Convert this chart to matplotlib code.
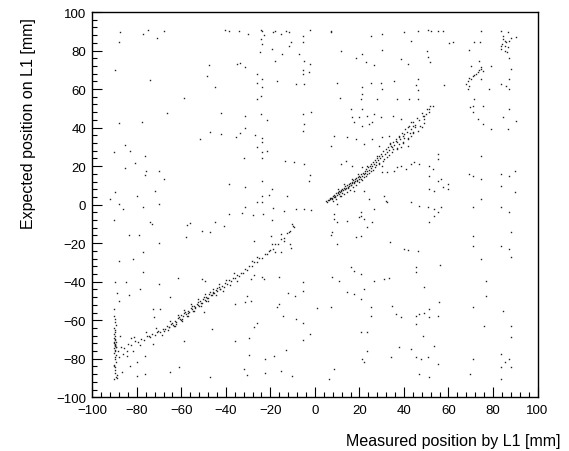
import matplotlib
matplotlib.use("Agg")
import matplotlib.pyplot as plt
from matplotlib.ticker import MultipleLocator

plt.rcParams['font.family'] = ['Liberation Sans', 'DejaVu Sans']

# upper diagonal band (measured ~ expected, positive side)
band_hi_x = [5.2, 5.6, 6.0, 6.3, 6.7, 7.0, 7.3, 7.7, 8.0, 8.4, 8.8, 9.1, 9.5, 9.8, 10.2, 10.5,
             10.9, 11.2, 11.6, 11.9, 12.3, 12.6, 13.0, 13.3, 13.7, 14.0, 14.4, 14.7, 15.1, 15.4,
             15.8, 16.1, 16.5, 16.8, 17.2, 17.5, 17.9, 18.2, 18.6, 18.9, 19.3, 19.7, 20.0, 20.4,
             20.8, 21.1, 21.5, 21.9, 22.3, 22.6, 23.0, 23.4, 23.8, 24.2, 24.6, 25.0, 25.4, 25.8,
             26.3, 26.7, 27.1, 27.6, 28.0, 28.5, 28.9, 29.4, 29.8, 30.3, 30.8, 31.3, 31.8, 32.3,
             32.8, 33.4, 33.9, 34.5, 35.1, 35.7, 36.3, 36.9, 37.6, 38.3, 39.0, 39.7, 40.5, 41.3,
             42.1, 43.0, 43.9, 44.8, 45.8, 46.8, 47.9, 49.0, 50.2, 51.5,
             7.5, 9.0, 10.8, 12.1, 13.6, 15.0, 16.3, 17.7, 19.0, 20.6, 22.0, 23.5, 25.1, 26.9,
             28.7, 30.5, 32.6, 34.8, 37.0, 39.4, 41.8, 44.2, 47.4,
             8.3, 9.7, 11.4, 12.9, 14.2, 15.6, 17.0, 18.4, 19.8, 21.2, 22.8, 24.4, 25.9, 27.4,
             29.0, 31.0, 33.1, 35.3, 37.8, 40.2, 42.6, 45.1,
             10.3, 13.1, 16.6, 19.4, 23.2, 27.8, 33.6]
band_hi_y = [1.9, 1.6, 2.6, 2.4, 3.5, 2.9, 3.7, 3.4, 4.5, 4.1, 5.2, 4.6, 5.8, 5.2, 6.4, 5.8,
             7.0, 6.4, 7.6, 6.9, 8.3, 7.6, 8.8, 8.1, 9.5, 8.6, 10.1, 9.2, 10.8, 9.8,
             11.3, 10.4, 11.9, 11.0, 12.6, 11.6, 13.1, 12.2, 13.8, 12.7, 14.3, 13.4, 14.9, 14.1,
             15.8, 14.8, 16.5, 15.7, 17.4, 16.5, 18.4, 17.3, 19.4, 18.2, 20.3, 19.1, 21.3, 20.1,
             22.3, 21.0, 23.4, 22.0, 24.3, 23.1, 25.4, 24.1, 26.5, 25.0, 27.8, 26.2, 28.9, 27.3,
             30.0, 28.6, 31.4, 29.8, 32.7, 31.2, 34.1, 32.4, 35.5, 34.0, 37.2, 35.6, 39.1, 37.5,
             40.9, 39.5, 42.9, 41.6, 45.0, 43.8, 47.4, 46.2, 49.8, 51.3,
             2.7, 4.1, 5.7, 6.3, 8.0, 8.9, 10.2, 11.3, 12.1, 13.5, 14.6, 16.0, 17.5, 19.3,
             21.0, 22.6, 24.9, 27.1, 29.4, 32.1, 34.6, 37.3, 41.0,
             2.0, 3.1, 4.6, 5.7, 6.6, 7.8, 9.3, 10.2, 11.6, 12.8, 14.9, 16.5, 18.1, 20.4,
             21.6, 23.9, 26.0, 28.7, 31.5, 34.6, 37.0, 40.1,
             8.2, 10.6, 13.5, 15.9, 20.3, 25.1, 32.2]

# lower diagonal band (negative side)
band_lo_x = [-88.5, -87.0, -85.6, -84.0, -82.5, -81.0, -79.6, -78.2, -76.8, -75.5, -74.2, -73.0,
             -71.8, -70.6, -69.5, -68.4, -67.4, -66.4, -65.5, -64.6, -63.8, -63.0, -62.2, -61.4,
             -60.7, -60.0, -59.3, -58.6, -57.9, -57.2, -56.5, -55.8, -55.1, -54.4, -53.7, -53.0,
             -52.3, -51.6, -50.9, -50.2, -49.5, -48.8, -48.1, -47.4, -46.7, -46.0, -45.3, -44.6,
             -43.9, -43.2, -42.5, -41.8, -41.0, -40.2, -39.4, -38.6, -37.8, -37.0, -36.1, -35.2,
             -34.3, -33.4, -32.4, -31.4, -30.4, -29.4, -28.3, -27.2, -26.1, -25.0, -23.8, -22.6,
             -21.4, -20.2, -19.0, -17.7, -16.4, -15.1, -13.8, -12.5, -11.2, -9.9,
             -66.0, -64.1, -62.6, -61.0, -59.6, -58.2, -56.8, -55.4, -54.0, -52.7, -51.2, -49.8,
             -48.4, -47.0, -45.6, -44.2, -42.8, -63.3, -60.3, -57.5, -54.7, -51.9, -49.1, -46.3,
             -65.0, -62.9, -61.7, -59.9, -58.9, -57.0, -55.5, -54.2, -52.5, -51.0, -49.3, -47.8,
             -46.0, -44.5, -43.0, -41.4, -39.8, -38.0, -36.5, -34.8, -76.0, -78.6, -81.3, -84.6,
             -71.2, -68.9]
band_lo_y = [-75.8, -74.0, -74.3, -72.5, -72.9, -71.0, -71.4, -69.6, -70.0, -68.3, -68.6, -67.0,
             -67.5, -65.8, -66.2, -64.3, -64.8, -62.9, -63.6, -61.8, -62.3, -60.3, -60.8, -58.9,
             -59.4, -57.5, -58.0, -56.2, -56.8, -55.0, -55.6, -53.8, -54.4, -52.6, -53.2, -51.4,
             -52.0, -50.2, -50.8, -49.0, -49.5, -47.7, -48.2, -46.5, -47.0, -45.3, -45.9, -44.1,
             -44.8, -43.0, -43.6, -42.0, -42.6, -40.8, -41.2, -39.3, -39.7, -37.9, -38.2, -36.4,
             -37.1, -35.3, -35.6, -33.6, -33.8, -31.7, -31.8, -29.7, -29.8, -27.6, -27.8, -25.7,
             -25.8, -23.4, -23.2, -20.6, -20.3, -17.6, -17.4, -14.8, -13.8, -11.0,
             -65.2, -61.5, -61.9, -58.4, -59.2, -55.9, -56.3, -52.8, -53.4, -50.3, -51.1, -48.1,
             -48.6, -45.4, -46.1, -43.3, -43.9, -63.0, -60.0, -57.6, -55.3, -52.4, -49.9, -47.0,
             -60.6, -63.2, -57.4, -60.4, -54.7, -57.7, -51.8, -55.3, -49.2, -52.6, -46.5, -49.9,
             -43.6, -46.7, -41.4, -44.6, -39.0, -41.6, -35.6, -39.4, -66.2, -73.1, -68.9, -76.2,
             -64.0, -67.8]

# vertical cluster at the left edge
col_x = [-90.2, -89.8, -90.0, -89.5, -90.3, -89.9, -89.6, -90.1, -89.7, -90.4, -89.8, -90.0,
         -89.3, -90.2, -89.9, -89.6, -90.0, -89.4, -90.3, -89.8, -89.7, -90.1, -89.5, -90.0,
         -89.9, -89.2, -90.2, -89.6, -89.8, -90.0, -88.9, -89.4, -90.1, -89.7, -90.3, -89.5]
col_y = [-57.8, -59.5, -61.0, -62.4, -63.8, -65.0, -66.1, -67.3, -68.2, -69.0, -69.8, -70.5,
         -71.1, -71.8, -72.4, -73.0, -73.5, -74.1, -74.6, -75.2, -75.9, -76.8, -77.9, -79.0,
         -80.3, -81.8, -83.0, -84.5, -86.0, -87.2, -88.4, -89.5, -90.6, -72.9, -71.5, -74.0]

# small clusters near the top right
clus_x = [83.6, 84.4, 85.2, 84.1, 85.5, 83.6, 85.2, 86.4, 85.9, 87.4, 87.9, 86.7, 84.7, 83.4,
          74.6, 73.9, 75.4, 73.2, 71.6, 70.9, 69.4, 68.6, 67.9, 70.1, 72.4, 74.6, 68.6, 69.4]
clus_y = [90.3, 87.3, 85.1, 83.3, 82.5, 80.7, 79.9, 79.0, 84.2, 85.1, 86.3, 81.6, 85.9, 82.1,
          71.2, 70.0, 69.5, 68.6, 67.3, 66.6, 66.0, 64.3, 62.6, 65.2, 67.8, 70.4, 60.0, 61.4]

# scattered background hits
bg_x = [-87.5, -88.2, -77.3, -75.2, -71.0, -67.7, -40.2, -38.7, -34.2, -30.1, -24.4, -23.7,
        -22.9, -18.7, -17.7, -15.4, -13.2, -11.7, -5.4, -5.4, -2.2, -24.4, -23.7, -24.7,
        -19.2, -17.7, -14.7, -11.7, -10.9, -7.2, -4.9, -2.2, -5.4, -2.7, -33.7, -31.6,
        -34.9, -47.7, -48.4, -45.1, -26.2, -23.7, -26.2, -23.7, -24.1, -26.2, -16.9, -8.7,
        -5.4, -4.9, -89.7, -74.3, -59.0, -66.5, -87.9, -77.7, -42.1, -31.6, -24.4, -21.4,
        -5.4, -1.9, -4.9, -5.4, -51.5, -47.2, -42.1, -35.4, -33.7, -31.6, -26.7, -23.7,
        -23.7, -25.9, -23.7, -21.4, -31.9, -23.7, -13.6, -9.4, -4.9, -2.2, -2.7, -90.2,
        -85.2, -83.0, -80.7, -85.2, -76.2, -75.8, -76.2, -70.2, -67.7, -38.7, -31.6, -23.7,
        -19.2, -23.7, -20.7, -12.7, -25.9, -23.7, -18.7, -13.9, -8.7, -4.9, -1.6, -31.6,
        -32.7, -27.7, -23.4, -38.7, -71.7, -79.7, -70.2, -87.9, -86.3, -77.0, -89.7, -92.0,
        # lower left quarter
        -90.2, -74.0, -73.2, -57.5, -56.0, -57.8, -50.7, -47.0, -45.1, -40.9, -19.2, -10.2,
        -9.4, -11.7, -15.4, -19.9, -19.2, -13.9, -11.4, -10.9, -15.4, -17.7, -20.7, -27.4,
        -25.9, -28.2, -28.9, -27.4, -23.7, -22.9, -16.2, -5.4, -5.4, -9.1, -12.1, -16.2,
        -16.9, -14.4, -8.7, -5.4, -2.2, -5.4, 0.8, -31.6, -28.9, -30.4, -36.1, -35.7,
        -29.7, -27.4, -26.2, -29.7, -22.2, -18.4, -13.2, -22.5, -15.4, -10.2, -30.4, -31.9,
        -47.0, -46.2, -50.7, -49.2, -61.7, -50.0, -61.2, -65.3, -70.2, -83.7, -79.2, -81.5,
        -77.0, -88.2, -89.7, -84.8, -77.3, -78.5, -83.3, -88.7, -87.8, -90.2, -70.2, -65.0,
        -69.5, -72.8, -72.5, -72.8, -76.2, -80.0, -83.0, -76.2, -80.0, -86.7, -88.7, -90.2,
        -84.5, -86.0, -81.5, -88.2, -87.5, -82.7, -74.7, -71.0, -68.0, -59.0, -65.7,
        # upper right quarter
        7.1, 7.1, 25.1, 30.3, 40.1, 46.1, 50.6, 52.1, 55.1, 57.4, 74.6, 86.7,
        61.9, 60.4, 43.1, 11.9, 21.3, 18.3, 22.8, 26.6, 30.3, 38.6, 41.9, 50.3,
        50.6, 51.8, 71.6, 69.4, 74.3, 70.1, 73.9, 79.1, 87.4, 87.9, 90.4, 10.1,
        21.3, 25.1, 29.6, 30.3, 35.6, 46.1, 45.4, 46.1, 58.1, 74.6, 78.4, 83.6,
        85.9, 87.4, 87.4, 11.3, 21.3, 20.6, 28.1, 37.1, 42.4, 46.1, 52.9, 51.4,
        51.4, 49.9, 48.4, 49.1, 48.8, 47.9, 71.6, 70.9, 69.8, 75.4, 70.9, 73.2,
        75.4, 79.1, 84.4, 87.4, 90.4, 86.7, 16.1, 21.3, 26.6, 16.8, 17.6, 19.8,
        21.3, 23.6, 24.3, 25.8, 29.6, 34.9, 38.6, 43.1, 41.6, 43.9, 8.6, 7.1,
        14.6, 18.3, 22.1, 25.8, 30.3, 33.4, 28.8, 34.1, 37.1, 38.6, 41.6, 39.4,
        41.6, 43.1, 43.9, 46.1, 40.1, 37.9, 36.4, 11.6, 13.8, 16.8, 21.3, 30.3,
        30.3, 32.6, 35.6, 37.1, 38.6, 40.9, 43.1, 44.6, 46.9, 51.4, 52.9, 55.1,
        55.1, 51.4, 55.1, 56.6, 59.6, 51.4, 53.6, 57.4, 59.6, 69.4, 70.9, 74.6,
        74.6, 83.6, 87.4, 89.7, 83.6, 89.7, 31.1, 31.8, 26.6, 20.6, 19.8, 8.6,
        10.1, 11.6, 17.6, 22.1, 24.3, 32.6, 43.1, 46.9, 50.6, 53.6, 53.6, 55.1,
        56.6, 74.6, 87.4, 70.9, 83.6,
        # lower right quarter
        8.6, 10.1, 14.6, 20.6, 22.1, 25.8, 23.6, 7.8, 7.1, 10.1, 18.3, 20.6,
        33.8, 40.1, 41.6, 46.1, 51.4, 87.9, 83.6, 87.4, 87.9, 70.9, 70.9, 74.6,
        16.1, 17.6, 20.6, 45.4, 45.4, 56.3, 7.8, 10.8, 26.6, 31.1, 33.4, 22.1,
        14.6, 17.6, 20.6, 7.1, 25.1, 25.1, 34.8, 36.3, 38.6, 45.4, 46.9, 51.4,
        51.4, 55.1, 49.1, 45.4, 55.9, 49.1, 70.9, 76.9, 76.9, 75.9, 84.4, 87.9,
        88.2, 20.6, 23.6, 48.4, 53.6, 37.9, 43.1, 45.4, 47.6, 50.6, 55.1, 34.1,
        21.3, 23.6, 22.1, 70.9, 83.6, 85.2, 87.4, 87.9, 83.6, 46.9, 51.4, 8.6,
        6.3, 69.8, 83.6]
bg_y = [89.4, 84.6, 88.5, 90.8, 86.3, 90.1, 90.6, 89.9, 89.9, 88.7, 90.8, 90.3,
        88.0, 89.4, 89.9, 88.5, 89.9, 89.6, 87.7, 84.2, 90.8, 85.9, 83.3, 79.0,
        80.7, 74.7, 78.2, 82.5, 84.6, 78.2, 74.7, 72.8, 69.9, 69.0, 73.5, 71.2,
        73.0, 72.4, 66.9, 61.2, 67.8, 65.2, 63.4, 60.9, 56.2, 54.8, 64.3, 62.6,
        67.8, 62.6, 69.9, 64.7, 55.5, 47.4, 42.3, 43.0, 47.5, 45.8, 47.0, 44.1,
        47.0, 47.9, 41.8, 38.4, 34.0, 37.8, 36.6, 34.9, 37.1, 39.6, 36.1, 34.4,
        32.3, 29.7, 27.1, 27.6, 24.0, 24.0, 22.8, 21.9, 21.1, 15.4, 12.4, 27.1,
        31.1, 28.0, 21.6, 18.8, 25.0, 17.6, 15.5, 17.6, 13.3, 10.7, 9.0, 12.4,
        8.1, 4.6, 5.0, 4.6, 1.5, 1.2, -1.9, -3.2, -2.3, -2.3, -2.8, -1.4,
        -4.5, -5.4, -4.9, -4.9, 7.2, 4.3, 0.3, 0.3, -2.3, -1.4, 6.4, 2.9,
        # lower left quarter
        -7.8, -8.9, -10.1, -10.6, -9.6, -17.0, -13.5, -14.1, -9.2, -11.3, -7.8, -10.1,
        -11.8, -14.4, -15.3, -16.1, -20.5, -18.7, -20.5, -22.7, -24.8, -24.8, -23.9, -18.7,
        -27.4, -29.1, -38.6, -36.5, -37.8, -38.6, -37.8, -40.4, -44.7, -47.3, -46.1, -51.6,
        -53.3, -58.0, -59.4, -61.5, -67.2, -70.1, -53.8, -50.7, -49.9, -47.3, -51.6, -70.6,
        -69.4, -63.4, -61.5, -78.1, -80.1, -78.4, -75.3, -87.4, -86.2, -88.8, -88.4, -85.3,
        -89.7, -64.6, -38.6, -39.5, -38.3, -55.6, -84.5, -86.7, -20.1, -15.8, -15.8, -28.2,
        -24.4, -29.1, -40.4, -40.0, -35.2, -43.8, -46.9, -45.9, -49.9, -54.2, -41.2, -48.1,
        -54.2, -54.2, -58.5, -72.4, -78.8, -81.9, -83.6, -87.9, -88.8, -86.7, -90.2, -83.6,
        -78.8, -77.5, -75.8, -79.3, -68.4, -69.4, -68.0, -66.3, -65.4, -70.6, -63.7,
        # upper right quarter
        90.3, 89.4, 87.3, 88.5, 89.4, 90.3, 90.8, 89.9, 90.3, 89.9, 89.9, 89.4,
        84.6, 83.9, 85.1, 79.9, 78.2, 75.9, 73.8, 72.4, 80.4, 75.6, 73.0, 79.9,
        76.4, 73.8, 84.2, 80.4, 84.6, 72.1, 74.7, 72.1, 75.9, 70.4, 86.8, 63.1,
        60.9, 63.4, 63.1, 60.0, 64.3, 65.2, 62.1, 59.6, 62.1, 65.2, 60.0, 62.6,
        61.7, 65.2, 60.0, 55.3, 57.4, 54.8, 54.8, 54.8, 54.8, 54.8, 51.3, 49.6,
        48.2, 47.0, 46.2, 44.4, 42.3, 40.1, 54.8, 51.3, 50.5, 51.3, 47.9, 44.4,
        41.8, 39.2, 45.3, 49.6, 43.5, 39.2, 49.6, 49.6, 47.0, 45.3, 42.7, 45.3,
        41.0, 46.1, 41.8, 42.7, 45.3, 46.1, 44.4, 42.7, 40.1, 41.0, 35.8, 30.6,
        34.9, 34.0, 31.4, 34.0, 34.9, 35.8, 30.6, 30.6, 28.8, 29.7, 30.6, 32.3,
        34.0, 35.8, 37.5, 38.4, 36.6, 34.9, 33.2, 21.1, 22.8, 20.2, 19.3, 20.2,
        16.7, 16.7, 17.6, 19.3, 20.2, 18.5, 21.1, 21.9, 21.1, 20.2, 18.5, 26.3,
        23.7, 15.0, 12.4, 13.3, 10.7, 8.1, 7.2, 9.0, 8.1, 15.9, 15.0, 25.4,
        13.3, 15.9, 15.0, 17.6, 9.8, 6.4, 4.6, 2.0, -2.3, -4.0, -6.6, -4.9,
        0.3, 4.6, 7.2, 7.2, 2.9, 1.2, 1.2, -0.6, -1.4, -2.3, -5.7, -4.0,
        -1.4, 2.9, -4.0, -1.4, -1.4,
        # lower right quarter
        -7.5, -9.2, -8.3, -5.7, -7.5, -9.2, -11.8, -14.4, -15.8, -20.5, -17.0, -16.5,
        -19.6, -23.1, -23.4, -23.9, -9.2, -14.1, -21.3, -23.1, -27.4, -16.1, -21.3, -28.2,
        -32.6, -34.3, -36.0, -32.6, -35.2, -31.4, -37.8, -39.5, -39.5, -38.6, -38.3, -43.8,
        -45.5, -46.4, -49.0, -53.3, -53.3, -57.7, -52.8, -56.8, -58.5, -57.7, -56.8, -54.2,
        -58.5, -58.0, -56.3, -62.0, -50.4, -42.9, -53.3, -39.5, -47.3, -62.8, -55.1, -62.8,
        -68.9, -66.3, -66.0, -68.0, -73.2, -74.1, -75.0, -79.3, -80.1, -79.3, -82.7, -79.3,
        -80.1, -75.8, -81.5, -80.1, -77.5, -81.9, -80.1, -84.5, -84.5, -87.9, -89.7, -85.3,
        -90.5, -87.9, -90.5]

all_x = band_hi_x + band_lo_x + col_x + clus_x + bg_x
all_y = band_hi_y + band_lo_y + col_y + clus_y + bg_y

fig = plt.figure(figsize=(5.69, 4.52), dpi=100)
ax = fig.add_axes([92.3 / 569, 1 - 398.3 / 452, 445.2 / 569, 385.3 / 452])
ax.plot(all_x, all_y, linestyle='none', marker='s', markersize=1.0,
        markeredgewidth=0, color='#222222')

ax.set_xlim(-100, 100)
ax.set_ylim(-100, 100)
for axis in (ax.xaxis, ax.yaxis):
    axis.set_major_locator(MultipleLocator(20))
    axis.set_minor_locator(MultipleLocator(4))
ax.tick_params(which='both', direction='in', top=False, right=False,
               labelsize=9.5, width=0.8, colors='black')
ax.tick_params(which='major', length=7, pad=4.5)
ax.tick_params(which='minor', length=3.8)
for sp in ax.spines.values():
    sp.set_linewidth(1.0)

fig.text(29 / 569, 1 - 18 / 452, 'Expected position on L1 [mm]', rotation=90,
         ha='center', va='top', fontsize=11.5)
fig.text(560 / 569, 1 - 442 / 452, 'Measured position by L1 [mm]',
         ha='right', va='center', fontsize=11.5)

fig.savefig('out.png', dpi=100)
